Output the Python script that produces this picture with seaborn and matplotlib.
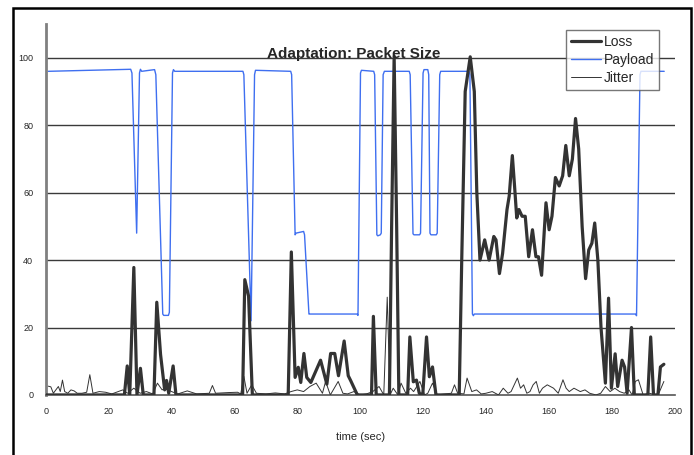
import matplotlib
matplotlib.use('Agg')
import matplotlib.pyplot as plt
from matplotlib import font_manager
from matplotlib.patches import Rectangle
import seaborn as sns

# Loss (%)
loss_t = [0, 25.0, 25.9, 26.7, 28.0, 29.0, 30.1, 31.0,
          34.4, 35.3, 36.5, 37.8, 38.4, 39.1, 40.5, 41.4,
          62.6, 63.3, 64.5, 65.7,
          77.1, 78.1, 79.3, 80.3, 81.1, 82.1, 83.0, 84.3,
          87.4, 89.4, 90.6, 91.9, 93.1, 94.9, 96.2, 97.0, 99.1,
          103.6, 104.2, 105.1, 109.3, 110.0, 110.8, 111.6, 112.3,
          115.1, 115.8, 116.9, 117.9, 118.8, 119.9, 121.1, 122.0, 123.0, 124.1,
          131.5, 132.3, 133.4, 135.0, 136.3, 137.1, 138.1, 139.6, 141.0, 142.5,
          143.2, 144.3, 145.3, 146.7, 147.4, 148.4, 149.1, 149.8, 150.5, 151.5,
          152.5, 153.6, 154.8, 155.9, 156.7, 157.7, 159.1, 160.1, 161.0, 162.1,
          163.3, 164.4, 165.4, 166.5, 167.5, 168.5, 169.5, 170.6, 171.7, 172.7,
          173.7, 174.6, 175.6, 176.6, 178.0, 179.0, 179.9, 181.1, 181.9, 183.3,
          184.1, 184.9, 186.3, 187.2, 191.5, 192.4, 193.3, 194.7, 195.5, 196.6]
loss_v = [0, 0, 8.6, 0, 37.8, 0, 7.9, 0,
          0, 27.5, 12, 1.5, 4.3, 0.5, 8.6, 0,
          0, 34.2, 29.3, 0,
          0, 42.4, 5.2, 8.2, 3.7, 12.3, 5.2, 3.7,
          10.3, 3.2, 12.3, 12.3, 5.7, 16.0, 5.7, 4.2, 0,
          0, 23.3, 0, 0, 50, 100.5, 50, 0,
          0, 17.2, 3.9, 4.4, 0.5, 0, 17.2, 5.4, 8.3, 0,
          0, 40, 90, 100.3, 90, 60, 40, 46, 40, 47,
          46, 36, 42, 55, 59, 71, 62, 52.5, 55, 53,
          53, 41, 49, 41, 41, 35.5, 57, 49, 53, 64.5,
          62, 65, 74, 65, 70, 82, 73, 50, 34.5, 43,
          45, 51, 40, 20, 3.5, 28.7, 2, 12.2, 2.5, 10.3,
          8.3, 0.5, 20, 0, 0, 17.2, 0, 0, 8.3, 9.1]

# Payload (packet size) breakpoints
payload_t = [0.8, 27.0, 27.4, 28.9, 29.8, 30.1, 30.5,
             34.6, 35.0, 37.2, 37.5, 39.0, 39.3, 40.3, 40.6, 41.0,
             62.7, 63.0, 65.3, 66.4, 66.7,
             77.9, 78.2, 79.3, 79.6, 82.0, 82.3, 83.7, 84.0,
             99.0, 99.3, 100.1, 100.4,
             104.3, 104.6, 105.3, 105.6, 106.4, 106.7, 107.3, 107.7,
             115.6, 115.9, 116.8, 117.1, 118.9, 119.2, 120.0, 120.3,
             121.5, 121.8, 122.2, 122.5, 124.2, 124.5, 125.3, 125.6,
             134.6, 134.9, 135.7, 136.0, 136.3,
             187.6, 187.9, 189.0, 189.3, 196.7]
payload_v = [96, 96.6, 95.5, 48, 95.5, 96.6, 96,
             96.5, 95, 24, 23.6, 23.6, 24.5, 95.5, 96.5, 96,
             96, 95, 22, 95, 96.3,
             96, 95, 47.5, 48, 48.5, 47.5, 24, 24,
             24, 23.6, 95.5, 96.3,
             96, 95, 47.5, 47.2, 47.5, 48, 95, 96,
             96, 95, 47.8, 47.5, 47.5, 48, 95.5, 96.5,
             96.5, 95, 48, 47.5, 47.5, 48, 95, 96,
             96, 95, 24, 23.5, 24,
             24, 23.5, 95, 96, 96]

# Jitter
jitter_t = [0.8, 1.6, 2.4, 3.2, 4.0, 4.6, 5.3, 6.0, 7.0, 8.0,
            9.0, 10.0, 11.5, 13.0, 14.0, 15.0, 17.0, 19.0, 21.0, 23.0,
            24.5, 26.0, 28.0, 30.0, 32.0, 34.0, 35.5, 37.0, 38.0, 40.0,
            42.0, 45.0, 48.0, 52.0, 53.0, 54.0, 58.0, 61.0, 62.0, 63.0,
            64.0, 65.5, 67.0, 70.0, 73.0, 76.0, 78.0, 80.0, 82.0, 84.0,
            86.0, 88.0, 89.0, 90.5, 93.0, 94.5, 96.0, 98.0, 100.0, 102.0,
            104.0, 106.0, 107.5, 108.6, 109.5, 110.5, 112.0, 113.0, 114.5, 116.0,
            117.0, 119.0, 120.5, 121.5, 123.0, 124.5, 127.0, 129.0, 130.0, 131.0,
            133.0, 134.0, 135.5, 137.0, 138.5, 140.0, 142.0, 144.0, 145.5, 147.0,
            148.0, 149.0, 150.0, 151.0, 152.0, 153.0, 154.0, 155.0, 156.0, 157.0,
            158.0, 159.5, 160.5, 161.5, 163.0, 164.5, 165.5, 166.5, 168.0, 170.0,
            171.5, 173.0, 175.0, 176.5, 178.0, 179.5, 181.0, 182.5, 184.0, 185.5,
            186.5, 187.5, 188.5, 190.0, 192.0, 194.0, 195.0, 196.6]
jitter_v = [2.6, 2.4, 0.5, 1.5, 2.5, 1.0, 4.4, 1.0, 0.5, 1.5,
            1.2, 0.5, 0.5, 0.8, 6.0, 0.5, 1.0, 0.8, 0.3, 1.0,
            1.5, 0.5, 2.0, 0.5, 1.0, 0.3, 3.5, 1.5, 2.0, 1.0,
            0.3, 1.2, 0.3, 0.5, 2.8, 0.5, 0.7, 0.8, 0.3, 5.5,
            0.5, 3.0, 0.5, 0.3, 0.6, 0.3, 1.0, 1.5, 1.0, 2.5,
            3.5, 0.5, 4.0, 0.0, 4.0, 0.5, 0.3, 1.0, 0.0, 0.3,
            1.0, 2.5, 0.0, 29.0, 0.0, 2.0, 0.0, 3.5, 0.5, 2.0,
            1.0, 4.0, 0.0, 0.5, 3.5, 0.0, 0.3, 0.5, 3.0, 0.5,
            0.3, 5.0, 1.0, 1.5, 0.3, 0.5, 1.0, 0.0, 2.0, 0.5,
            1.0, 3.0, 5.0, 2.0, 3.0, 0.5, 1.0, 3.0, 4.0, 0.5,
            2.0, 3.0, 2.5, 2.0, 0.5, 4.5, 2.0, 1.0, 2.0, 1.0,
            1.5, 0.5, 0.0, 0.5, 2.5, 1.0, 2.0, 1.0, 0.5, 1.5,
            0.0, 4.0, 4.5, 0.0, 0.5, 0.0, 0.5, 4.0]

x_ticks = list(range(0, 201, 20))
y_ticks = list(range(0, 101, 20))

sns.set_style('white')
names = {f.name for f in font_manager.fontManager.ttflist}
narrow = 'Liberation Sans Narrow' if 'Liberation Sans Narrow' in names else 'Liberation Sans'
plt.rcParams['font.family'] = [narrow, 'DejaVu Sans']

fig = plt.figure(figsize=(6.94, 4.55), dpi=100)
ax = fig.add_axes([0.066, 0.132, 0.906, 0.815])

for y in y_ticks[1:]:
    ax.axhline(y, color='#3a3a3a', lw=1.0, zorder=1)

sns.lineplot(x=loss_t, y=loss_v, ax=ax, color='#333333', lw=2.3,
             label='Loss', zorder=3, estimator=None, sort=False)
sns.lineplot(x=payload_t, y=payload_v, ax=ax, color='#3f6ff0', lw=1.0,
             label='Payload', zorder=2.5, estimator=None, sort=False)
sns.lineplot(x=jitter_t, y=jitter_v, ax=ax, color='#333333', lw=0.7,
             label='Jitter', zorder=2.8, estimator=None, sort=False)

ax.set_xlim(0, 200)
ax.set_ylim(0, 110)
ax.set_xticks(x_ticks)
ax.set_yticks(y_ticks)
ax.tick_params(axis='both', labelsize=6.5, length=3, width=1, color='#555555',
               pad=6, direction='out')
for s in ['top', 'right']:
    ax.spines[s].set_visible(False)
ax.spines['left'].set_color('#808080')
ax.spines['left'].set_linewidth(2)
ax.spines['bottom'].set_color('#555555')
ax.spines['bottom'].set_linewidth(1.2)

ax.set_xlabel('time (sec)', fontsize=8, labelpad=11)
ax.set_ylabel('')
ax.text(98, 101.2, 'Adaptation: Packet Size', fontsize=11, fontweight='bold',
        ha='center', va='center', zorder=4)

leg = ax.legend(loc='upper right', bbox_to_anchor=(0.976, 0.984), fontsize=10,
                frameon=True, fancybox=False, handlelength=2.2,
                handletextpad=0.2, labelspacing=0.3, borderpad=0.35,
                borderaxespad=0)
leg.get_frame().set_edgecolor('#555555')
leg.get_frame().set_linewidth(1)
leg.set_zorder(5)

fig.add_artist(Rectangle((13 / 694, -0.05), (691 - 13) / 694, 1.05 - 8 / 455,
                         transform=fig.transFigure, fill=False, lw=1.8,
                         edgecolor='black'))

fig.savefig('out.png', dpi=100)
